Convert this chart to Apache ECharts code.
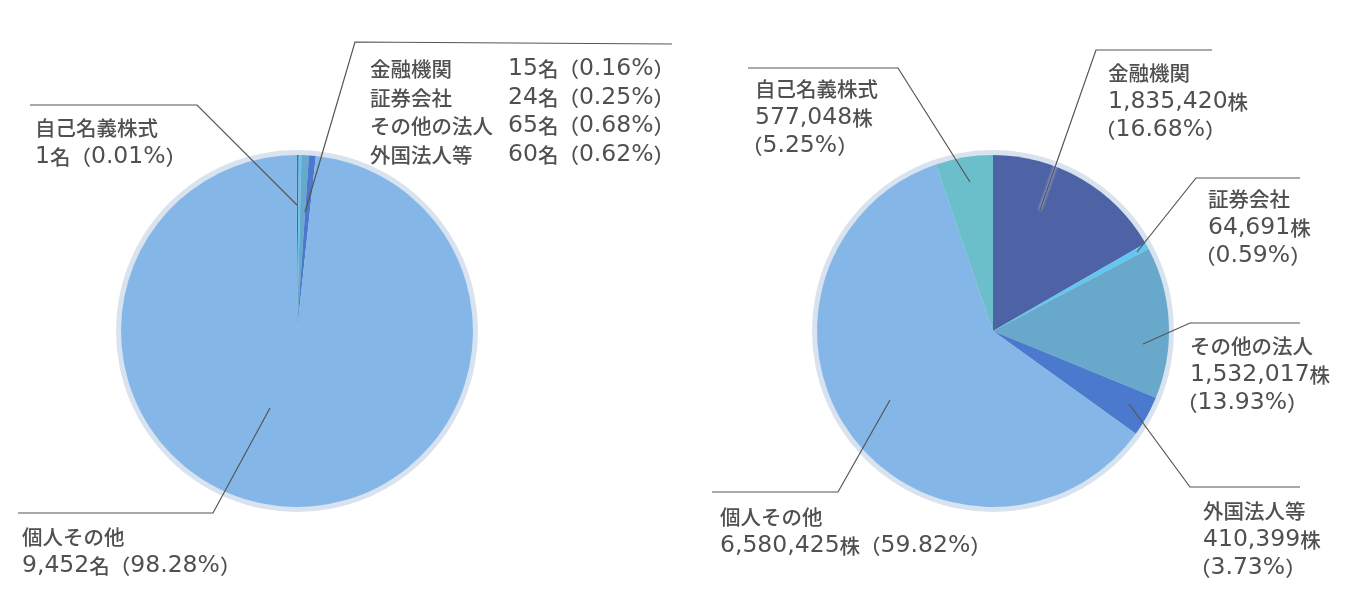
<!DOCTYPE html>
<html><head><meta charset="utf-8">
<script src="https://cdn.jsdelivr.net/npm/echarts@6/dist/echarts.min.js"></script>
<style>html,body{margin:0;padding:0;background:#fff}#c{width:1355px;height:605px}</style>
</head><body><div id="c"></div>
<script>
// ---- data ----
const categories = ['金融機関','証券会社','その他の法人','外国法人等','個人その他','自己名義株式'];
const holders = [15, 24, 65, 60, 9452, 1];
const holderPct = ['0.16','0.25','0.68','0.62','98.28','0.01'];
const shares = [1835420, 64691, 1532017, 410399, 6580425, 577048];
const sharePct = ['16.68','0.59','13.93','3.73','59.82','5.25'];

// ---- style ----
const colors = ['#4e62a6','#62c6ee','#68a9cb','#4a79cd','#85b6e8','#6bbfcb'];
const ringColor = '#d8e3ef';
const textColor = '#505050';
const CJK = '"Noto Sans CJK JP",sans-serif';
const LAT = '"DejaVu Sans",sans-serif';
const fmt = n => n.toLocaleString('en-US');

// label layout: text top-left, leader line [anchor, elbow, end]
const layoutLeft = {
  2: {x:370, y:55, pts:[[305,212],[355,42],[672,44]]},
  4: {x:22, y:523, pts:[[270,408],[213,513],[18,513]]},
  5: {x:35, y:114, pts:[[297,205],[197,105],[30,105]]}
};
const layoutRight = {
  0: {x:1108, y:59, pts:[[1040,210],[1096,50],[1212,50]]},
  1: {x:1208, y:185, pts:[[1137,252],[1196,178],[1300,178]]},
  2: {x:1190, y:332, pts:[[1143,344],[1190,323],[1300,323]]},
  3: {x:1203, y:497, pts:[[1129,404],[1190,487],[1300,487]]},
  4: {x:720, y:503, pts:[[890,400],[838,492],[712,492]]},
  5: {x:755, y:75, pts:[[970,182],[898,68],[748,68]]}
};
const SP = 13; // leading fullwidth paren offset

const C1 = [297, 331], C2 = [993, 331];
const R = 176, RING = 181;

const j = {color: textColor, fontSize: 20.5, lineHeight: 28.5, fontFamily: CJK, fontWeight: 500};
const a = {color: textColor, fontSize: 23.5, lineHeight: 28.5, fontFamily: LAT};
const rich = {
  j: j, a: a,
  n: Object.assign({}, j, {width: 138}),
  sp: Object.assign({}, j, {width: SP})
};

// split a string into latin / cjk runs as rich tokens
function runs(s) {
  return s.replace(/([\x20-\x7e]+)|([^\x20-\x7e]+)/g, (m, l, c) => l ? '{a|' + l + '}' : '{j|' + c + '}');
}

function groupText() {
  return [0,1,2,3].map(i => '{n|' + categories[i] + '}' + runs(holders[i] + '名（' + holderPct[i] + '%）')).join('\n');
}
function leftText(i) {
  if (i === 2) return groupText();
  return runs(categories[i]) + '\n' + runs(fmt(holders[i]) + '名（' + holderPct[i] + '%）');
}
function rightText(i) {
  if (i === 4) return runs(categories[i]) + '\n' + runs(fmt(shares[i]) + '株（' + sharePct[i] + '%）');
  return '{sp| }' + runs(categories[i]) + '\n{sp| }' + runs(fmt(shares[i]) + '株') + '\n' + runs('（' + sharePct[i] + '%）');
}

function ring(center) {
  return {type:'pie', center, radius:[0, RING], silent:true, z:1,
    label:{show:false}, labelLine:{show:false},
    data:[{value:1, itemStyle:{color: ringColor}}]};
}
function basePie(center, values) {
  return {type:'pie', center, radius:[0, R], startAngle:90, clockwise:true, z:2, silent:true,
    label:{show:false}, labelLine:{show:false}, itemStyle:{borderWidth:0},
    data: categories.map((name, i) => ({name, value: values[i], itemStyle:{color: colors[i]}}))};
}
function labelPie(center, values, layout, textFn, haloIdx, shift) {
  return {type:'pie', center, radius:[0, R], startAngle:90, clockwise:true, z:3, silent:true,
    avoidLabelOverlap:false,
    itemStyle:{color:'rgba(0,0,0,0)', borderWidth:0},
    label:{show:true, position:'outside', padding:0, rich, formatter: p => textFn(p.dataIndex)},
    labelLine:{show:true, length:10, length2:10, lineStyle:{color:'#555555', width:1.2}},
    labelLayout: p => {
      const L = layout[p.dataIndex];
      if (!L) return {};
      return {x:L.x - shift(p.dataIndex), y:L.y, align:'left', verticalAlign:'top', labelLinePoints:L.pts, hideOverlap:false, moveOverlap:false};
    },
    data: categories.map((name, i) => {
      const item = {name, value: values[i]};
      if (!layout[i]) { item.label = {show:false}; item.labelLine = {show:false}; }
      if (i === haloIdx) item.labelLine = {lineStyle:{color:'#555555', width:1.2, shadowColor:'#ffffff', shadowBlur:3}};
      return item;
    })};
}

const chart = echarts.init(document.getElementById('c'));
chart.setOption({
  animation: false,
  series: [
    ring(C1), ring(C2),
    basePie(C1, holders), basePie(C2, shares),
    labelPie(C1, holders, layoutLeft, leftText, -1, () => 0),
    labelPie(C2, shares, layoutRight, rightText, 0, i => i === 4 ? 0 : SP)
  ]
});
</script></body></html>
